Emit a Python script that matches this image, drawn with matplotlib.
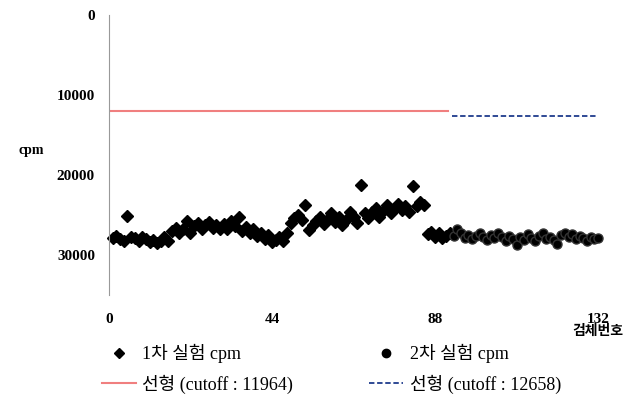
import matplotlib.pyplot as plt
from matplotlib.lines import Line2D

# 1차 실험 cpm (검체번호 1..92)
cpm1 = [27900, 27600, 28000, 28300, 25100,
        27700, 27900, 28300, 27800, 28000, 28400, 28100,
        28500, 28200, 27800, 28300,
        27000, 26600, 27200, 26800,
        25700, 27300,
        26400, 26000, 26800, 26300, 25900, 26600, 26200, 26800,
        26100, 26700, 25700, 26400, 25300, 27000,
        26500, 27300, 26800, 27600, 27200, 28000, 27500, 28400, 28100,
        27700, 28200, 27300, 26000, 25400,
        25000, 25600, 23800, 26900, 26200,
        25700, 25300, 26100, 25500, 24800, 25900, 25200,
        26200, 25600, 24600, 25300, 26000,
        21300,
        24800, 25400, 24600, 24100, 25200, 24500, 23800, 24700, 24200,
        23600, 24400, 23900, 24600,
        21400,
        23900, 23400, 23800,
        27400, 27100, 27700, 27300, 27900, 27600, 27200]

# 2차 실험 cpm (검체번호 93..132)
cpm2 = [27600, 26800, 27300, 27900, 27500, 28000, 27600, 27200, 27800, 28100,
        27500, 27900, 27300, 27800, 28200, 27600, 28000, 28800, 27700, 28100,
        27400, 27900, 28200, 27600, 27300, 28000, 27700, 28100, 28600, 27500,
        27200, 27800, 27400, 28000, 27600, 27900, 28200, 27800, 28000, 27900]

cutoff1 = 11964
cutoff2 = 12658
xticks = [0, 44, 88, 132]
yticks = [0, 10000, 20000, 30000]

x1 = list(range(1, len(cpm1) + 1))
x2 = list(range(len(cpm1) + 1, len(cpm1) + len(cpm2) + 1))

serif = ['Liberation Serif', 'Noto Sans CJK KR']
plt.rcParams['font.family'] = serif

fig = plt.figure(figsize=(6.33, 3.96), dpi=100)
ax = fig.add_axes([0.172, 0.255, 0.773, 0.707])

ax.plot(x1, cpm1, linestyle='none', marker='D', color='black', ms=6, clip_on=False)
ax.plot(x2, cpm2, linestyle='none', marker='o', color='black', ms=6.5,
        markeredgecolor='#333333', clip_on=False)
ax.plot([0, x1[-1] - 0.5], [cutoff1, cutoff1], color='#f07f7f', lw=1.5)
ax.plot([x2[0] - 0.5, x2[-1]], [cutoff2, cutoff2], color='#1f3b8c', lw=1.3,
        linestyle=(0, (3, 1.5)))

ax.set_xlim(0, 132)
ax.set_ylim(35000, 0)
ax.set_yticks(yticks)
ax.set_xticks(xticks)
ax.set_yticklabels([str(v) for v in yticks], fontweight='bold', fontsize=11)
ax.set_xticklabels([str(v) for v in xticks], fontweight='bold', fontsize=11)
ax.tick_params(length=0)
ax.tick_params(axis='x', pad=13)
ax.tick_params(axis='y', pad=10)
for s in ['top', 'right', 'bottom']:
    ax.spines[s].set_visible(False)
ax.spines['left'].set_color('#999999')

fig.text(0.05, 0.62, 'cpm', fontsize=10, fontweight='bold', ha='center', va='center')
fig.text(0.945, 0.163, '검체번호', fontsize=10, fontweight='bold', ha='center', va='center')

handles = [
    Line2D([], [], linestyle='none', marker='D', color='black', ms=5),
    Line2D([], [], color='#f07f7f', lw=1.5),
    Line2D([], [], linestyle='none', marker='o', color='black', ms=6),
    Line2D([], [], color='#1f3b8c', lw=1.3, linestyle=(0, (3, 1.5))),
]
labels = ['1차 실험 cpm', '선형 (cutoff : 11964)', '2차 실험 cpm', '선형 (cutoff : 12658)']
fig.legend(handles, labels, ncol=2, loc='lower left', bbox_to_anchor=(0.135, -0.035),
           frameon=False, fontsize=13, handlelength=1.9, handletextpad=0.35,
           columnspacing=4.2, labelspacing=0.62)

fig.savefig('out.png', dpi=100)
